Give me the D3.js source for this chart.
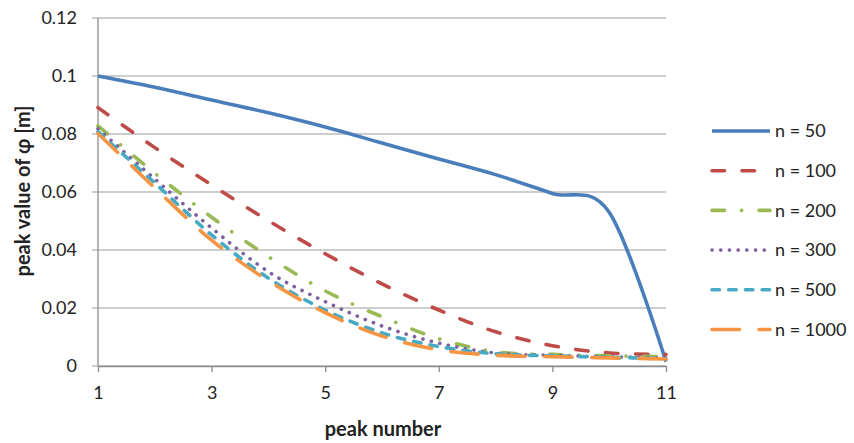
<!DOCTYPE html>
<html>
<head>
<meta charset="utf-8">
<script src="https://cdn.jsdelivr.net/npm/d3@7"></script>
<style>
  html, body { margin: 0; padding: 0; background: #ffffff; }
  svg { display: block; }
  text { font-family: Lato, "Open Sans", sans-serif; fill: #222; }
</style>
</head>
<body>
<svg id="chart" width="854" height="443"></svg>
<script>
// Peak numbers along the x axis
const peaks = [1, 2, 3, 4, 5, 6, 7, 8, 9, 10, 11];

// Peak value of phi [m] for each mesh size n
const n50   = [0.1000, 0.0961, 0.0917, 0.0873, 0.0824, 0.0769, 0.0714, 0.0660, 0.0595, 0.0530, 0.0015];
const n100  = [0.0891, 0.0753, 0.0624, 0.0501, 0.0387, 0.0283, 0.0193, 0.0118, 0.0070, 0.0045, 0.0040];
const n200  = [0.0828, 0.0665, 0.0513, 0.0377, 0.0259, 0.0170, 0.0094, 0.0049, 0.0040, 0.0035, 0.0032];
const n300  = [0.0818, 0.0645, 0.0476, 0.0325, 0.0222, 0.0138, 0.0079, 0.0045, 0.0037, 0.0032, 0.0028];
const n500  = [0.0808, 0.0631, 0.0452, 0.0303, 0.0193, 0.0114, 0.0067, 0.0042, 0.0035, 0.0030, 0.0025];
const n1000 = [0.0802, 0.0614, 0.0434, 0.0294, 0.0184, 0.0103, 0.0056, 0.0037, 0.0032, 0.0028, 0.0024];

const seriesNames = ["n = 50", "n = 100", "n = 200", "n = 300", "n = 500", "n = 1000"];
const seriesValues = [n50, n100, n200, n300, n500, n1000];

// Axis ticks
const xTicks = [1, 3, 5, 7, 9, 11];
const yTicks = [0, 0.02, 0.04, 0.06, 0.08, 0.1, 0.12];

// Line styles per series
const colors = ["#4A7EBB", "#BE4B48", "#98B954", "#7D60A0", "#46AAC5", "#F59443"];
const dashes = [null, "12.5,17.5", "12.5,17,0.1,17.4", "0.1,8.6", "7.5,9.2", "27.5,19.5"];

const svg = d3.select("#chart");
const plotLeft = 98, plotRight = 666, plotTop = 18, plotBottom = 366;

const x = d3.scaleLinear().domain([1, 11]).range([plotLeft, plotRight]);
const y = d3.scaleLinear().domain([0, 0.12]).range([plotBottom, plotTop]);

// Horizontal gridlines
svg.append("g")
  .selectAll("line")
  .data(yTicks)
  .join("line")
  .attr("x1", plotLeft - 6).attr("x2", plotRight)
  .attr("y1", d => y(d)).attr("y2", d => y(d))
  .attr("stroke", "#bdbdbd").attr("stroke-width", 1.5);

// Y axis
const yAxis = svg.append("g")
  .attr("transform", `translate(${plotLeft},0)`)
  .call(d3.axisLeft(y).tickValues(yTicks).tickSize(0).tickPadding(21)
    .tickFormat(d => d === 0 ? "0" : String(+d.toFixed(2))));
yAxis.select(".domain").attr("stroke", "#8c8c8c").attr("stroke-width", 1.3)
  .attr("d", `M0,${plotTop}V${plotBottom}`);
yAxis.selectAll("text").style("font-size", "18px").attr("fill", "#262626")
  .style("font-family", "Lato, sans-serif");

// X axis
const xAxis = svg.append("g")
  .attr("transform", `translate(0,${plotBottom})`)
  .call(d3.axisBottom(x).tickValues(xTicks).tickSize(6).tickSizeOuter(0).tickPadding(14)
    .tickFormat(d3.format("d")));
xAxis.select(".domain").attr("stroke", "#8c8c8c").attr("stroke-width", 1.3);
xAxis.selectAll(".tick line").attr("stroke", "#8c8c8c").attr("stroke-width", 1.3);
xAxis.selectAll("text").style("font-size", "18px").attr("fill", "#262626")
  .style("font-family", "Lato, sans-serif");

// Series lines (smoothed)
const line = d3.line()
  .x((d, i) => x(peaks[i]))
  .y(d => y(d))
  .curve(d3.curveCardinal.tension(0));

svg.append("g")
  .selectAll("path")
  .data(seriesValues)
  .join("path")
  .attr("d", d => line(d))
  .attr("fill", "none")
  .attr("stroke", (d, i) => colors[i])
  .attr("stroke-width", 3.6)
  .attr("stroke-linecap", (d, i) => i === 0 ? "butt" : "round")
  .attr("stroke-linejoin", "round")
  .attr("stroke-dasharray", (d, i) => dashes[i]);

// Axis titles
svg.append("text")
  .attr("x", (plotLeft + plotRight) / 2 + 1).attr("y", 436)
  .attr("text-anchor", "middle")
  .style("font-size", "20px").style("font-weight", "bold")
  .text("peak number");

svg.append("text")
  .attr("transform", `translate(30,${(plotTop + plotBottom) / 2 - 1}) rotate(-90)`)
  .attr("text-anchor", "middle")
  .style("font-size", "20px").style("font-weight", "bold")
  .text("peak value of \u0278 [m]");

// Legend
const legend = svg.append("g");
const legendRows = legend.selectAll("g")
  .data(seriesNames)
  .join("g")
  .attr("transform", (d, i) => `translate(712,${131 + i * 39.7})`);

legendRows.append("line")
  .attr("x1", 0).attr("x2", 58)
  .attr("stroke", (d, i) => colors[i])
  .attr("stroke-width", 3.6)
  .attr("stroke-linecap", (d, i) => i === 0 ? "butt" : "round")
  .attr("stroke-dasharray", (d, i) => dashes[i]);

legendRows.append("text")
  .attr("x", 63).attr("dy", "0.35em")
  .style("font-size", "18px").attr("fill", "#262626")
  .text(d => d);
</script>
</body>
</html>
